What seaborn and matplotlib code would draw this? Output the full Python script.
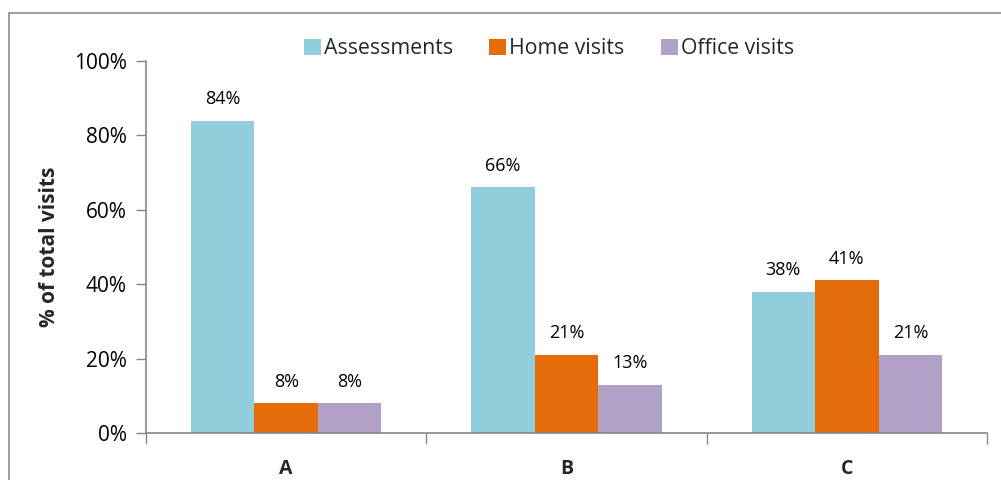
import matplotlib
matplotlib.use("Agg")
import matplotlib.pyplot as plt
import seaborn as sns
import pandas as pd
from matplotlib.patches import Rectangle
from matplotlib.ticker import FixedLocator, PercentFormatter

categories = ["A", "B", "C"]
series = ["Assessments", "Home visits", "Office visits"]
assessments = [84, 66, 38]
home_visits = [8, 21, 41]
office_visits = [8, 13, 21]
colors = ["#92CDDC", "#E46C0A", "#B2A1C7"]
y_ticks = [0, 20, 40, 60, 80, 100]

sns.set_theme(style="white")
plt.rcParams["font.family"] = ["Open Sans", "DejaVu Sans"]

rows = []
for s, vals in zip(series, [assessments, home_visits, office_visits]):
    for c, v in zip(categories, vals):
        rows.append({"cat": c, "series": s, "value": v})
df = pd.DataFrame(rows)

fig = plt.figure(figsize=(10.01, 4.8), dpi=100)
ax = fig.add_axes([146 / 1001, 1 - 433 / 480, (987 - 146) / 1001, (433 - 61) / 480])

sns.barplot(data=df, x="cat", y="value", hue="series", order=categories,
            hue_order=series, palette=colors, width=0.68, gap=0,
            saturation=1, ax=ax, legend=True, edgecolor="none", linewidth=0)

for cont in ax.containers:
    ax.bar_label(cont, labels=[f"{int(round(b.get_height()))}%" for b in cont],
                 padding=9, fontsize=13, color="#000000")

ax.set_xlim(-0.5, 2.5)
ax.set_ylim(0, 100)
ax.set_yticks(y_ticks)
ax.yaxis.set_major_formatter(PercentFormatter(100, decimals=0))
ax.tick_params(axis="y", labelsize=15, length=7, width=1, color="#868686",
               left=True, direction="out", pad=7, labelcolor="#000000")
ax.set_xticks(range(len(categories)))
ax.set_xticklabels(categories, fontweight="bold", fontsize=14)
ax.tick_params(axis="x", which="major", length=0, pad=19)
ax.xaxis.set_minor_locator(FixedLocator([-0.5, 0.5, 1.5, 2.5]))
ax.tick_params(axis="x", which="minor", length=8, width=1, color="#868686",
               bottom=True, direction="out")
ax.set_xlabel("")
ax.set_ylabel("% of total visits", fontweight="bold", fontsize=15, labelpad=10)

for side in ["top", "right"]:
    ax.spines[side].set_visible(False)
for side in ["left", "bottom"]:
    ax.spines[side].set_color("#868686")
    ax.spines[side].set_linewidth(1.2)

leg = ax.legend(loc="center", bbox_to_anchor=(0.479, 1.033), ncol=3, frameon=False,
                fontsize=15.3, handlelength=0.8, handleheight=0.8,
                handletextpad=0.15, columnspacing=1.7)

top = 1 - 12.5 / 480
fig.add_artist(Rectangle((8.5 / 1001, -0.2), 1.2, top + 0.2,
                         transform=fig.transFigure, fill=False,
                         edgecolor="#8c8c8c", linewidth=1.2))

fig.savefig("out.png", dpi=100)
